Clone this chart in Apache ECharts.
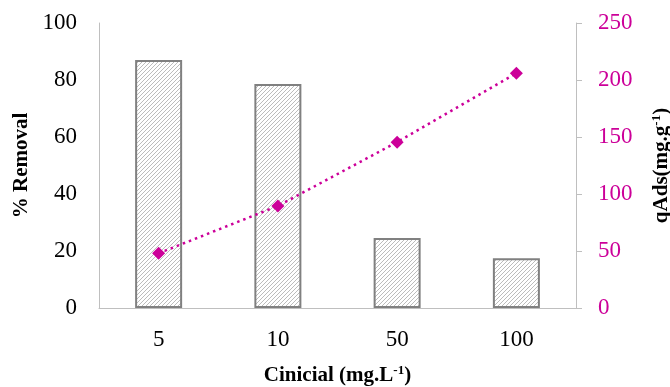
<!DOCTYPE html>
<html>
<head>
<meta charset="utf-8">
<script src="https://cdn.jsdelivr.net/npm/echarts@6/dist/echarts.min.js"></script>
<style>
  html, body { margin: 0; padding: 0; background: #fff; }
  #chart { width: 670px; height: 387px; }
</style>
</head>
<body>
<div id="chart"></div>
<script>
// data
const categories = ['5', '10', '50', '100']
const removal = [87, 78.6, 24.6, 17.5]
const qAds = [48, 89.5, 145.5, 206]

// hatch fill for the bars
function hatch() {
  const c = document.createElement('canvas')
  c.width = 4
  c.height = 4
  const ctx = c.getContext('2d')
  ctx.fillStyle = '#fff'
  ctx.fillRect(0, 0, 4, 4)
  ctx.strokeStyle = '#b4b4b4'
  ctx.lineWidth = 0.9
  ctx.beginPath()
  ctx.moveTo(0, 4); ctx.lineTo(4, 0)
  ctx.moveTo(-1, 1); ctx.lineTo(1, -1)
  ctx.moveTo(3, 5); ctx.lineTo(5, 3)
  ctx.stroke()
  return c
}

const font = 'Liberation Serif'
const pink = '#cc0099'
const axisGray = '#bfbfbf'

const chart = echarts.init(document.getElementById('chart'))
chart.setOption({
  animation: false,
  grid: { left: 99, right: 94, top: 23, bottom: 79, outerBoundsMode: 'none' },
  xAxis: {
    type: 'category',
    data: categories,
    axisLine: { lineStyle: { color: axisGray, width: 1 } },
    axisTick: { show: false },
    axisLabel: { color: '#000', fontFamily: font, fontSize: 23, margin: 20 },
    name: '{b|Cinicial (mg.L}{s|-1}{b|)}',
    nameLocation: 'middle',
    nameGap: 56,
    nameTextStyle: {
      rich: {
        b: { fontFamily: font, fontSize: 21, fontWeight: 'bold', color: '#000' },
        s: { fontFamily: font, fontSize: 13, fontWeight: 'bold', color: '#000', verticalAlign: 'top', padding: [0, 0, 10, 0] }
      }
    }
  },
  yAxis: [
    {
      type: 'value',
      min: 0,
      max: 100,
      interval: 20,
      axisLine: { show: true, lineStyle: { color: axisGray, width: 1 } },
      axisTick: { show: false },
      splitLine: { show: false },
      axisLabel: { color: '#000', fontFamily: font, fontSize: 23, margin: 22 },
      name: '% Removal',
      nameLocation: 'middle',
      nameRotate: 90,
      nameGap: 66,
      nameTextStyle: { fontFamily: font, fontSize: 21, fontWeight: 'bold', color: '#000' }
    },
    {
      type: 'value',
      position: 'right',
      min: 0,
      max: 250,
      interval: 50,
      axisLine: { show: true, lineStyle: { color: axisGray, width: 1 } },
      axisTick: { show: true, inside: false, length: 6, lineStyle: { color: axisGray } },
      splitLine: { show: false },
      axisLabel: { color: pink, fontFamily: font, fontSize: 23, margin: 22 },
      name: '{b|qAds(mg.g}{s|-1}{b|)}',
      nameLocation: 'middle',
      nameRotate: 90,
      nameGap: 74,
      nameTextStyle: {
        rich: {
          b: { fontFamily: font, fontSize: 21, fontWeight: 'bold', color: '#000' },
          s: { fontFamily: font, fontSize: 13, fontWeight: 'bold', color: '#000', verticalAlign: 'top', padding: [0, 0, 10, 0] }
        }
      }
    }
  ],
  series: [
    {
      name: '% Removal',
      type: 'bar',
      yAxisIndex: 0,
      data: removal,
      barWidth: 47,
      itemStyle: {
        color: { image: hatch(), repeat: 'repeat' },
        borderColor: '#808080',
        borderWidth: 2
      }
    },
    {
      name: 'qAds',
      type: 'line',
      yAxisIndex: 1,
      data: qAds,
      symbol: 'diamond',
      symbolSize: 13,
      itemStyle: { color: pink },
      lineStyle: { color: pink, width: 2.5, type: [2.5, 4] }
    }
  ]
})
</script>
</body>
</html>
